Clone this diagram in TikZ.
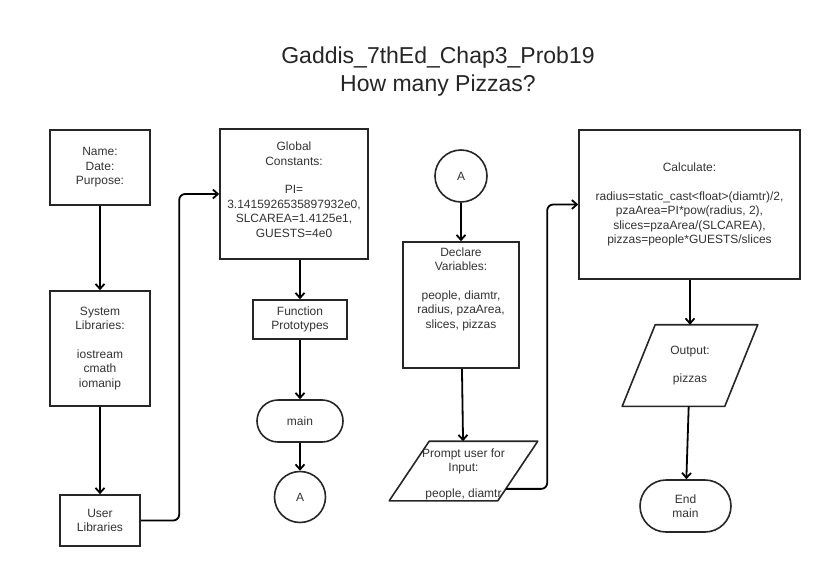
\documentclass[tikz,border=0pt]{standalone}
\usepackage{fontspec}
\setmainfont{Liberation Sans}
\usetikzlibrary{calc,shapes.misc,arrows.meta}

\begin{document}
\begin{tikzpicture}[x = 1pt, y = -1pt,
    base/.style = {draw = black!85, line width = 1.6pt, inner sep = 0pt, align = center, text = black!80, font = \fontsize{12}{14.5}\selectfont},
    box/.style = {base, rectangle},
    term/.style = {base, rounded rectangle},
    conn/.style = {base, circle},
    io/.style = {base, rectangle, draw = none},
    slantline/.style = {draw = black!85, line width = 1.6pt, line join = round},
    flow/.style = {draw = black, line width = 1.8pt, -{Straight Barb[length = 5pt, width = 9pt]}, rounded corners = 6pt}]
    \useasboundingbox [fill = white] (0,0) rectangle (823,565);
    \node [align = center, text = black!85, font = \fontsize{23}{28}\selectfont] (title) at (438,72) {Gaddis\_7thEd\_Chap3\_Prob19\\How many Pizzas?};
    \node [box, minimum width = 100, minimum height = 75] (name) at (100,167.5) {Name:\\Date:\\Purpose:};
    \node [box, minimum width = 100, minimum height = 115] (syslib) at (100,348.5) {System\\Libraries:\\[14pt]iostream\\cmath\\iomanip};
    \node [box, minimum width = 80, minimum height = 51] (usrlib) at (100,520.5) {User\\Libraries};
    \node [box, minimum width = 148, minimum height = 130] (global) at (294,194) {Global\\Constants:\\[14pt]PI=\\3.1415926535897932e0,\\SLCAREA=1.4125e1,\\GUESTS=4e0\rule[-9pt]{0pt}{9pt}};
    \node [box, minimum width = 94, minimum height = 39] (proto) at (300,319.5) {Function\\Prototypes};
    \node [term, minimum width = 86, minimum height = 42] (main) at (300,421) {main};
    \node [conn, minimum size = 51] (outA) at (300,497) {A};
    \node [conn, minimum size = 52] (inA) at (461,176) {A};
    \node [box, minimum width = 116, minimum height = 126] (declare) at (461,305) {Declare\\Variables:\\[14pt]people, diamtr,\\radius, pzaArea,\\slices, pizzas\rule[-34pt]{0pt}{34pt}};
    \node [io, minimum width = 107, minimum height = 58] (prompt) at (463.5,471) {\rule{0pt}{15pt}Prompt user for\\Input:\\[11pt]people, diamtr};
    \draw [slantline] ([xshift = 20pt]prompt.north west) -- ([xshift = 20pt]prompt.north east) -- ([xshift = -20pt]prompt.south east) -- ([xshift = -20pt]prompt.south west) -- cycle;
    \node [box, minimum width = 221, minimum height = 149] (calc) at (689.5,204.5) {Calculate:\\[14pt]radius=static\_cast<float>(diamtr)/2,\\pzaArea=PI*pow(radius, 2),\\slices=pzaArea/(SLCAREA),\\pizzas=people*GUESTS/slices};
    \node [io, minimum width = 101, minimum height = 80] (output) at (690,365.5) {Output:\\[14pt]pizzas};
    \draw [slantline] ([xshift = 16.5pt]output.north west) -- ([xshift = 16.5pt]output.north east) -- ([xshift = -16.5pt]output.south east) -- ([xshift = -16.5pt]output.south west) -- cycle;
    \node [term, minimum width = 91, minimum height = 52] (endmain) at (685.5,506) {End\\main};
    \coordinate (promptout) at ($([xshift = -20pt]prompt.south east)!0.2!([xshift = 20pt]prompt.north east)$);
    \draw [flow] (name) -- (syslib);
    \draw [flow] (syslib) -- (usrlib);
    \draw [flow] (usrlib.east) -| ([xshift = -40pt]global.west) -- (global.west);
    \draw [flow] (global.south -| proto.north) -- (proto);
    \draw [flow] (proto) -- (main);
    \draw [flow] (main) -- (outA);
    \draw [flow] (inA) -- (declare);
    \draw [flow] (declare) -- (prompt);
    \draw [flow] (promptout) -| ([xshift = -31pt]calc.west) -- (calc.west);
    \draw [flow] (calc.south -| output.north) -- (output);
    \draw [flow] (output) -- (endmain);
\end{tikzpicture}
\end{document}
